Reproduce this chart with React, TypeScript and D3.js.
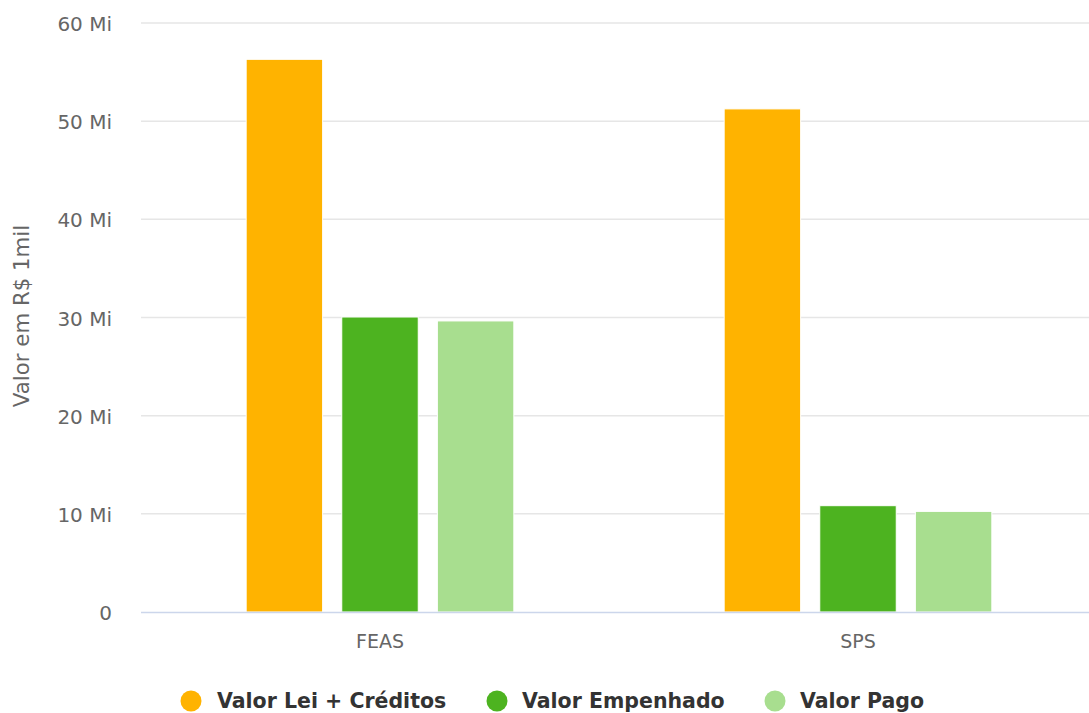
import React from "react";
import * as d3 from "d3";

const categories = ["FEAS", "SPS"];
const seriesNames = ["Valor Lei + Créditos", "Valor Empenhado", "Valor Pago"];
const seriesColors = ["#FFB300", "#4DB320", "#A8DE8F"];
const valorLei = [56.3, 51.25];
const valorEmpenhado = [30.05, 10.83];
const valorPago = [29.65, 10.25];
const yTicks = [0, 10, 20, 30, 40, 50, 60];
const yTickLabels = ["0", "10 Mi", "20 Mi", "30 Mi", "40 Mi", "50 Mi", "60 Mi"];
const yTitle = "Valor em R$ 1mil";

const W = 1089;
const H = 713;
const FONT = "'DejaVu Sans', Verdana, sans-serif";

export default function App() {
  const seriesValues = [valorLei, valorEmpenhado, valorPago];
  const plotLeft = 141;
  const plotRight = 1097;
  const y = d3.scaleLinear().domain([0, 60]).range([612, 23]);
  const x0 = d3.scaleBand<string>().domain(categories).range([plotLeft, plotRight]).padding(0);
  const bw = x0.bandwidth();
  const x1 = d3
    .scaleBand<string>()
    .domain(seriesNames)
    .range([0.2 * bw, 0.8 * bw])
    .paddingInner(0.2)
    .paddingOuter(0.1);

  const legendItems = [
    { cx: 191, tx: 217 },
    { cx: 497, tx: 522 },
    { cx: 775, tx: 800 },
  ];

  return (
    <svg
      width={W}
      height={H}
      style={{ position: "absolute", left: 0, top: 0, background: "#fff" }}
      fontFamily={FONT}
    >
      <rect x={0} y={0} width={W} height={H} fill="#fff" />
      {yTicks.map((t) =>
        t === 0 ? null : (
          <line key={"g" + t} x1={141} x2={W} y1={y(t)} y2={y(t)} stroke="#e6e6e6" strokeWidth={1.5} />
        )
      )}
      {yTicks.map((t, i) => (
        <text key={"t" + t} x={112} y={y(t) + 8} textAnchor="end" fontSize={20} fill="#666">
          {yTickLabels[i]}
        </text>
      ))}
      <text
        transform={`translate(29, 316) rotate(-90)`}
        textAnchor="middle"
        fontSize={21.3}
        fill="#666"
      >
        {yTitle}
      </text>
      {categories.map((c, ci) => (
        <g key={c}>
          {seriesNames.map((s, si) => {
            const v = seriesValues[si][ci];
            const bx = (x0(c) as number) + (x1(s) as number);
            return (
              <rect
                key={s}
                x={bx}
                y={y(v)}
                width={x1.bandwidth()}
                height={y(0) - y(v)}
                fill={seriesColors[si]}
                stroke="#fff"
                strokeWidth={1}
              />
            );
          })}
          <text
            x={(x0(c) as number) + bw / 2}
            y={648}
            textAnchor="middle"
            fontSize={19}
            fill="#666"
          >
            {c}
          </text>
        </g>
      ))}
      <line x1={141} x2={W} y1={y(0) + 0.5} y2={y(0) + 0.5} stroke="#ccd6eb" strokeWidth={1.5} />
      {seriesNames.map((s, i) => (
        <g key={"l" + s}>
          <circle cx={legendItems[i].cx} cy={701} r={10.5} fill={seriesColors[i]} />
          <text x={legendItems[i].tx} y={708} fontSize={20.5} fontWeight="bold" fill="#333">
            {s}
          </text>
        </g>
      ))}
    </svg>
  );
}
